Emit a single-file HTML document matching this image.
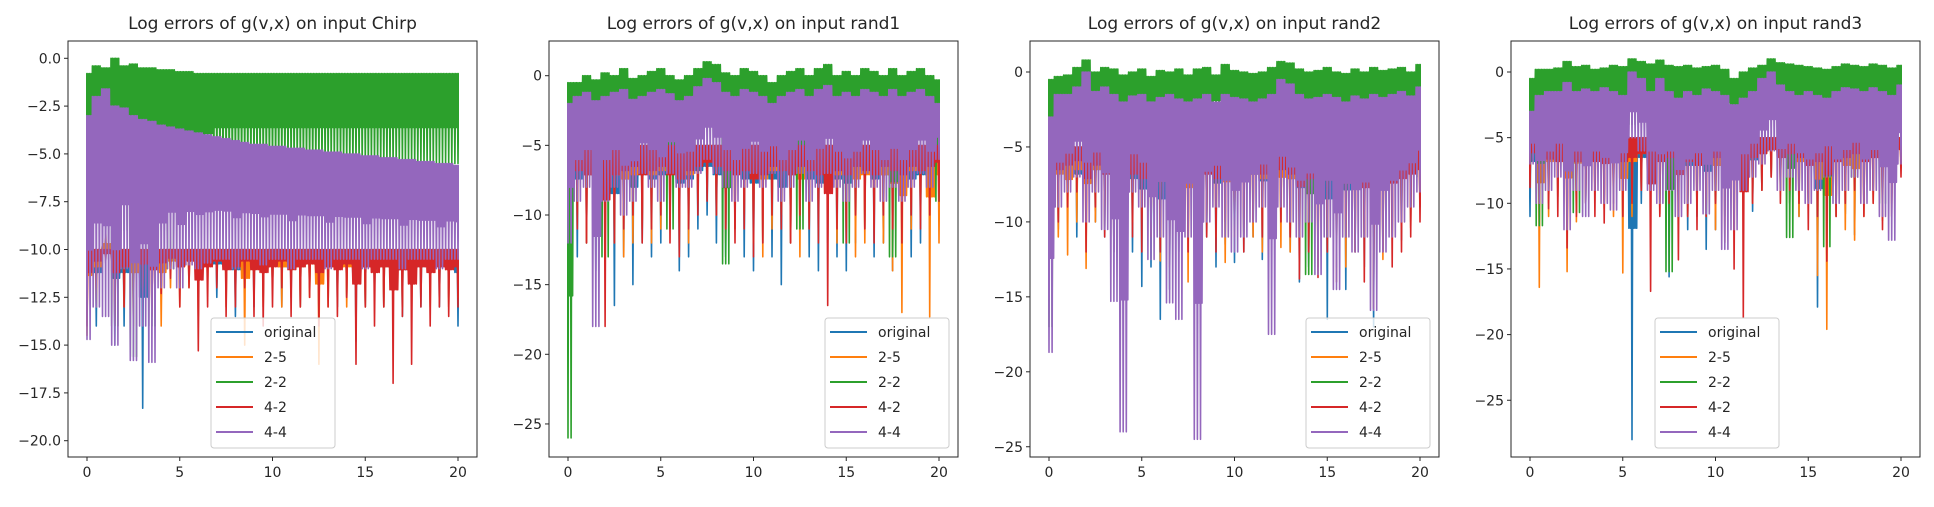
<!DOCTYPE html>
<html><head><meta charset="utf-8">
<style>
html,body{margin:0;padding:0;background:#fff;}
svg text{font-family:"DejaVu Sans","Liberation Sans",sans-serif;fill:#262626;}
</style></head>
<body>
<svg id="fig" width="1934" height="502" viewBox="0 0 1934 502" xmlns="http://www.w3.org/2000/svg"></svg>
<script>
const xs = [0,0.5,1,1.5,2,2.5,3,3.5,4,4.5,5,5.5,6,6.5,7,7.5,8,8.5,9,9.5,10,10.5,11,11.5,12,12.5,13,13.5,14,14.5,15,15.5,16,16.5,17,17.5,18,18.5,19,19.5,20];
const seriesNames = ["original","2-5","2-2","4-2","4-4"];
const titles = ["Log errors of g(v,x) on input Chirp","Log errors of g(v,x) on input rand1","Log errors of g(v,x) on input rand2","Log errors of g(v,x) on input rand3"];
const xTicks = [0,5,10,15,20];
const yTicks1 = [0,-2.5,-5,-7.5,-10,-12.5,-15,-17.5,-20];
const yTicks2 = [0,-5,-10,-15,-20,-25];
const baseHi = [-10,-5,-5,-5];

// Chirp
const c_orig_lo = [-5,-14,-10,-15,-14,-13,-18.3,-13,-12,-11,-10.8,-11.5,-12,-11,-12.5,-12,-13.5,-12,-13,-12.5,-12,-13,-12.5,-13,-12,-13.5,-12,-13,-12.5,-14.8,-13,-12.5,-13,-12,-13.5,-12.5,-13,-12,-13,-12.5,-14];
const c_o25_lo = [-14.5,-13,-9,-12,-13,-14,-12,-13,-14,-12,-13,-12,-13.5,-12,-11,-13,-12,-15,-12,-13,-12,-13,-12,-13,-12.5,-16,-13,-12,-13,-12,-13,-12,-13,-12.5,-13,-13.5,-12,-13,-12,-13,-12.5];
const c_g_hi = [-0.8,-0.4,-0.5,0,-0.4,-0.3,-0.5,-0.5,-0.6,-0.6,-0.7,-0.7,-0.8,-0.8,-0.8,-0.8,-0.8,-0.8,-0.8,-0.8,-0.8,-0.8,-0.8,-0.8,-0.8,-0.8,-0.8,-0.8,-0.8,-0.8,-0.8,-0.8,-0.8,-0.8,-0.8,-0.8,-0.8,-0.8,-0.8,-0.8,-0.8];
const c_g_lo = [-8,-8,-10.5,-14,-9,-15.6,-10,-14,-9,-11,-8,-7,-6.5,-6,-5.5,-5.5,-5.5,-5.5,-5.5,-5.5,-5.5,-5.5,-5.5,-5.5,-5.5,-5.5,-5.5,-5.5,-5.5,-5.5,-5.5,-5.5,-5.5,-5.5,-5.5,-5.5,-5.5,-5.5,-5.5,-5.5,-5.5];
const c_r_lo = [-14,-12,-10.7,-14,-13,-11,-12.5,-13.5,-12.3,-11.5,-13,-12,-15.3,-13,-12,-13.5,-13,-12,-13.5,-14,-13,-12,-13.5,-13,-12.5,-14,-13,-13.5,-12.5,-16,-13,-14,-13,-17,-13.5,-16,-13,-14,-13,-13.5,-13];
const c_p_hi = [-3,-2,-1.6,-2.5,-2.6,-3,-3.2,-3.3,-3.5,-3.6,-3.7,-3.8,-3.9,-4,-4.1,-4.2,-4.3,-4.4,-4.5,-4.5,-4.6,-4.6,-4.7,-4.7,-4.8,-4.8,-4.9,-4.9,-5,-5,-5.1,-5.1,-5.2,-5.2,-5.3,-5.3,-5.4,-5.4,-5.5,-5.5,-5.6];
const c_p_lo = [-14.7,-13,-13.5,-15,-11,-15.8,-14,-15.9,-12,-11,-12,-10.8,-11,-10.7,-10.5,-10.5,-11,-10.5,-10.5,-10.8,-10.5,-10.5,-11,-10.5,-10.5,-10.5,-11,-10.5,-10.5,-10.5,-11,-10.5,-10.5,-10.5,-11,-10.5,-10.5,-10.5,-11,-10.5,-10.5];

// rand1
const r1_orig_lo = [-12,-13,-12,-14,-12,-16.5,-13,-15,-12,-13,-12,-11,-14,-13,-11,-10,-12,-13,-11,-13,-14,-12,-13,-15,-12,-11,-13,-14,-12,-13,-14,-12,-11,-13,-12,-14,-12,-13,-12,-11,-10];
const r1_o25_lo = [-11,-10,-12,-11,-13,-12,-13,-12,-11,-12,-11,-10,-11,-12,-9,-8,-10,-12,-11,-10,-12,-13,-11,-10,-12,-13,-11,-10,-9,-12,-11,-13,-12,-11,-12,-14,-17,-11,-10,-17.3,-12];
const r1_g_hi = [-0.5,-0.5,0,-0.3,0.2,0,0.5,-0.2,0,0.3,0.5,0,-0.3,0,0.5,1.0,0.8,0.2,0,0.5,0.3,0,-0.5,0,0.3,0.5,0,0.5,0.8,0,0.3,0,0.5,0.3,0,0.5,0,0.3,0.5,0,-0.3];
const r1_g_lo = [-26,-4,-5,-4,-13,-4,-5,-4,-4,-5,-4,-11,-4,-4,-5,-4,-4,-13.5,-4,-5,-4,-4,-5,-4,-4,-11,-4,-5,-4,-4,-12,-4,-5,-4,-4,-13,-4,-5,-4,-4,-9];
const r1_r_lo = [-10,-11,-12,-10,-18,-12,-11,-10,-12,-11,-10,-12,-13,-11,-10,-9,-10,-11,-12,-11,-13,-12,-10,-11,-12,-10,-11,-12,-16.5,-11,-12,-10,-11,-12,-10,-11,-12,-10,-11,-10,-9];
const r1_p_hi = [-2,-1.5,-1.2,-1.8,-1.5,-1.2,-1,-1.7,-1.5,-1.2,-1,-1.3,-1.8,-1.5,-0.8,-0.2,-0.5,-1.2,-1.5,-1,-1.2,-1.5,-2,-1.5,-1.2,-1,-1.5,-1,-0.7,-1.5,-1.2,-1.5,-1,-1.2,-1.5,-1,-1.5,-1.2,-1,-1.5,-2];
const r1_p_lo = [-12,-9,-8,-18,-9,-8,-10,-9,-7,-8,-9,-7,-8,-8,-7,-6,-7,-8,-9,-8,-7,-8,-7,-9,-8,-7,-9,-8,-7,-8,-9,-8,-7,-8,-9,-8,-9,-8,-7,-8,-6];

// rand2
const r2_orig_lo = [-10,-10.5,-9,-11,-9.5,-10,-11,-12,-13,-12,-14.3,-13,-16.5,-14.5,-12,-11,-12,-11,-13,-11.5,-12.7,-12,-11,-12.5,-11,-10,-12,-14,-13,-12,-16.5,-13,-14.5,-12,-13,-17,-12,-11,-11.2,-10,-9];
const r2_o25_lo = [-9,-11,-12.2,-10,-13.1,-10,-9,-11,-13.8,-10,-9.8,-11,-12.6,-11,-10,-14,-12,-10,-11,-12.7,-10,-9,-11,-12,-10,-11.7,-12,-11,-12,-13,-12,-11,-13,-12,-11,-13.6,-12.5,-11,-10.3,-10.4,-8.5];
const r2_g_hi = [-0.5,-0.3,-0.2,0.3,0.8,0,0.3,0.2,-0.2,0,0.2,-0.3,0.1,0,0.2,-0.2,0.2,0.3,-0.2,0.5,0.1,0,-0.1,0,0.3,0.7,0.6,0.2,0,0.1,0.3,0,-0.1,0.2,0,0.3,0.1,0.2,0.3,0,0.5];
const r2_g_lo = [-17,-4,-4,-3,-6,-4,-3,-4,-5,-4,-4,-3,-4,-5,-4,-6,-4,-4,-3,-4,-4,-5,-4,-4,-3,-6,-7,-4,-13.5,-5,-4,-4,-5,-4,-4,-5,-4,-4,-5,-4,-7];
const r2_r_lo = [-15,-10,-9,-8,-12,-9,-11,-12,-10,-11,-12,-11,-12,-13,-11,-12,-16.8,-11,-12,-10,-11,-12,-10,-11,-12,-10,-11,-13.8,-12,-13.7,-12,-14,-11,-12,-14,-15.8,-12,-13,-12,-11,-10];
const r2_p_hi = [-3,-1.5,-1.5,-1,0,-1.3,-1,-1.5,-2,-1.6,-1.5,-2,-1.7,-1.5,-1.8,-2,-1.8,-1.5,-2,-1.5,-1.7,-1.8,-2,-1.8,-1.5,-0.5,-0.8,-1.5,-1.8,-1.7,-1.5,-1.7,-2,-1.6,-1.8,-1.5,-1.7,-1.5,-1.3,-1.6,-1];
const r2_p_lo = [-18.7,-9,-8,-7,-10,-8,-10.5,-15.3,-24,-8,-9,-12.5,-11,-15.4,-16.5,-11,-24.5,-10,-9,-11,-12,-11,-10,-9,-17.5,-9,-10,-11,-10,-13.5,-11,-14.5,-11,-12,-11,-15.9,-12,-11,-10,-9,-8];

// rand3
const r3_orig_lo = [-11,-11.3,-10,-9,-11.6,-10,-10,-9,-10,-9,-11,-28,-10,-10,-9,-15.6,-10,-12,-11,-13.5,-12,-11,-10,-9,-10.6,-9,-8,-9,-10,-11,-10,-17.9,-10,-11,-10.8,-12.4,-10,-9,-10.6,-8,-7];
const r3_o25_lo = [-8,-16.4,-11,-9.5,-15.2,-11.4,-10,-9,-10.4,-11,-15.3,-11,-9,-10,-10.8,-10,-10.5,-11,-10,-11,-12,-9,-10,-11,-10,-9,-8,-9,-10,-11,-10,-15.5,-19.6,-11,-12,-12.8,-11,-10,-11.3,-10,-7];
const r3_g_hi = [-0.5,0.2,0.2,0.3,0.8,0.4,0.5,0.2,0.3,0.5,0.4,1.0,0.8,0.6,0.9,0.5,0.4,0.5,0.3,0.4,0.5,0.2,-0.5,0,0.3,0.5,1.0,0.7,0.6,0.5,0.4,0.3,0.2,0.4,0.6,0.5,0.4,0.6,0.5,0.3,0.5];
const r3_g_lo = [-5,-11.7,-4,-5,-4,-10.7,-4,-5,-4,-6,-5,-4,-4,-6,-4,-15.2,-4,-5,-6,-4,-5,-4,-6,-4,-5,-4,-3,-4,-12.6,-5,-6,-4,-13.3,-5,-4,-8,-5,-4,-10,-5,-4];
const r3_r_lo = [-8.8,-10,-10.4,-11,-13.4,-11,-10,-11,-11.5,-10,-11,-10,-9,-16.7,-11,-10,-14.3,-11,-12,-11,-10,-13,-15,-18.7,-10,-9,-8,-10,-9,-10,-12,-11,-14.4,-11,-10,-9,-11,-10,-12,-11,-8];
const r3_p_hi = [-3,-1.8,-1.5,-1.5,-0.8,-1.5,-1.3,-1.5,-1.2,-1.5,-1.8,0,-0.5,-1.5,-0.5,-1.5,-2,-1.5,-1.8,-1.3,-1.5,-1.8,-2.5,-2,-1.5,-0.5,0,-1,-1.5,-1.8,-1.5,-1.8,-2,-1.5,-1.2,-1.3,-1.5,-1.2,-1.5,-1.8,-1];
const r3_p_lo = [-7,-10,-9,-8,-12,-9,-11,-9,-10,-10.5,-9,-5,-6,-9,-10,-9,-11,-10,-9,-10.8,-9,-13.5,-12,-9,-8,-7,-6,-9,-8,-9,-10,-9,-8,-10,-9,-8,-10,-9,-11,-12.8,-7];

const colors = ["#1f77b4","#ff7f0e","#2ca02c","#d62728","#9467bd"];
const NS = "http://www.w3.org/2000/svg";
const svg = document.getElementById("fig");
function mk(tag, attrs, parent){const e=document.createElementNS(NS,tag);for(const k in attrs)e.setAttribute(k,attrs[k]);(parent||svg).appendChild(e);return e;}

const panels = [
  {left:68, y0:58.3, k:19.12, ticks:yTicks1, fmt:v=>v.toFixed(1), legendX:211,
   series:[[null,c_orig_lo],[null,c_o25_lo],[c_g_hi,c_g_lo],[null,c_r_lo],[c_p_hi,c_p_lo]]},
  {left:549, y0:75.7, k:13.93, ticks:yTicks2, fmt:v=>String(v), legendX:549+276,
   series:[[null,r1_orig_lo],[null,r1_o25_lo],[r1_g_hi,r1_g_lo],[null,r1_r_lo],[r1_p_hi,r1_p_lo]]},
  {left:1030, y0:72, k:14.99, ticks:yTicks2, fmt:v=>String(v), legendX:1030+276,
   series:[[null,r2_orig_lo],[null,r2_o25_lo],[r2_g_hi,r2_g_lo],[null,r2_r_lo],[r2_p_hi,r2_p_lo]]},
  {left:1511, y0:72, k:13.13, ticks:yTicks2, fmt:v=>String(v), legendX:1655,
   series:[[null,r3_orig_lo],[null,r3_o25_lo],[r3_g_hi,r3_g_lo],[null,r3_r_lo],[r3_p_hi,r3_p_lo]]}
];
const axTop=41,axBottom=457,W=409;
panels.forEach((p,pi)=>{
  const g=mk("g",{});
  
  
  const X=v=>p.left+19+v*(371/20);
  const Y=v=>p.y0-v*p.k;
  const t=mk("text",{x:p.left+W/2,y:29,"text-anchor":"middle","font-size":"17"},g);
  t.textContent=titles[pi];
  
  
  const cid="clip"+pi;
  const cp=mk("clipPath",{id:cid},g);
  mk("rect",{x:X(0)-1,y:axTop,width:X(20)-X(0)+2,height:axBottom-axTop},cp);
  const plot=mk("g",{"clip-path":"url(#"+cid+")"},g);
  const w=X(0.5)-X(0);
  p.series.forEach((s,si)=>{
    const hi=s[0], lo=s[1];
    const dense=(hi!==null);
    let pts=[];
    for(let i=0;i<xs.length;i++){
      const h=hi?hi[i]:baseHi[pi];
      const l=lo[i];
      const m=h+(l-h)*(dense?0.6:0.3);
      for(let k=0;k<6;k++){
        const xx=X(xs[i])-w/2+(k+0.5)*w/6;
        const deep = dense ? (k%2==0) : (k==2);
        pts.push(xx.toFixed(1)+","+Y(h).toFixed(1));
        pts.push((xx+w/12).toFixed(1)+","+Y(deep?l:m).toFixed(1));
      }
    }
    const pl=mk("polyline",{points:pts.join(" "),fill:"none",stroke:colors[si],"stroke-width":"1.6","stroke-linejoin":"round"},plot);
    
    
  });
  const frame=mk("rect",{x:p.left,y:axTop,width:W,height:axBottom-axTop,fill:"none",stroke:"#262626","stroke-width":"1"},g);
  
  
  xTicks.forEach(v=>{
    mk("line",{x1:X(v),x2:X(v),y1:axBottom,y2:axBottom+4,stroke:"#262626"},g);
    const tx=mk("text",{x:X(v),y:axBottom+20,"text-anchor":"middle","font-size":"14"},g);
    tx.textContent=String(v);
    
    
  });
  p.ticks.forEach(v=>{
    mk("line",{x1:p.left-4,x2:p.left,y1:Y(v),y2:Y(v),stroke:"#262626"},g);
    const ty=mk("text",{x:p.left-7,y:Y(v)+5,"text-anchor":"end","font-size":"14"},g);
    ty.textContent=p.fmt(v).replace("-","\u2212");
    
    
  });
  const lg=mk("g",{},g);
  
  
  mk("rect",{x:p.legendX,y:318,width:124,height:130,rx:3,fill:"#fff","fill-opacity":"0.8",stroke:"#ccc"},lg);
  seriesNames.forEach((n,si)=>{
    const yy=332+si*25;
    const e=mk("g",{},lg);
    
    
    mk("line",{x1:p.legendX+5,x2:p.legendX+42,y1:yy,y2:yy,stroke:colors[si],"stroke-width":"2"},e);
    const lt=mk("text",{x:p.legendX+53,y:yy+5,"font-size":"14"},e);
    lt.textContent=n;
  });
});
</script>
</body></html>
